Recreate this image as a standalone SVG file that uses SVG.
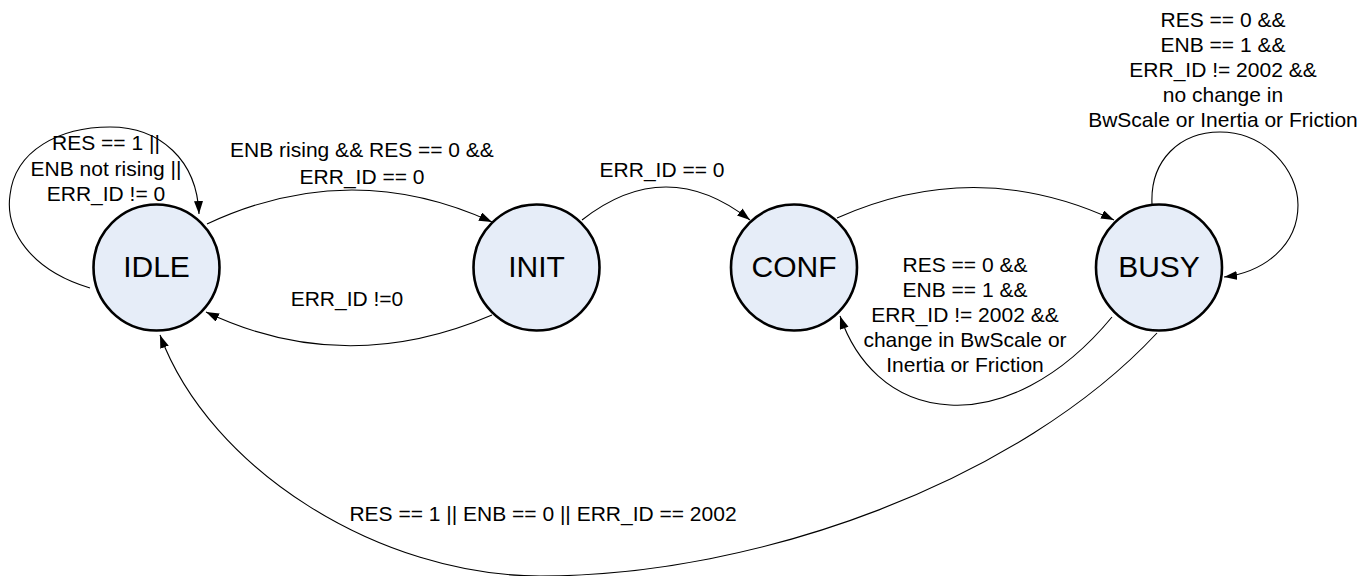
<svg xmlns="http://www.w3.org/2000/svg" width="1368" height="576" viewBox="0 0 1368 576">
<style>
.node{fill:#E6EDF8;stroke:#000;stroke-width:2.6}
.nl{font-family:"Liberation Sans",Arial,sans-serif;font-size:30px;fill:#000;text-anchor:middle}
.el{font-family:"Liberation Sans",Arial,sans-serif;font-size:21px;fill:#000;text-anchor:middle}
.c{fill:none;stroke:#000;stroke-width:1.1;marker-end:url(#ah)}
</style>
<defs>
<marker id="ah" markerUnits="userSpaceOnUse" markerWidth="14" markerHeight="10" refX="13" refY="4.5" orient="auto">
<path d="M0,0 L13,4.5 L0,9 z" fill="#000"/>
</marker>
</defs>
<rect width="1368" height="576" fill="#fff"/>
<g id="connectors">
<path class="c" d="M90,288 C30,270 5,230 10,195 C15,150 60,127 110,127 C160,127 197,160 199,214"/>
<path class="c" d="M207,224 Q350,157 492,222"/>
<path class="c" d="M492,315 Q345,378 206,312"/>
<path class="c" d="M582,220 Q666,154 750,220"/>
<path class="c" d="M837,218 Q976,156 1114,220"/>
<path class="c" d="M1112,317 C1060,380 1000,408 950,405 C890,402 855,360 840,316"/>
<path class="c" d="M1152,204 C1150,160 1180,132 1220,132 C1265,132 1298,170 1298,205 C1298,245 1265,272 1224,277"/>
<path class="c" d="M1157,333 C1020,480 760,576 540,576 C380,576 210,470 160,335"/>
<text class="el" x="106" y="150">RES == 1 ||</text>
<text class="el" x="106" y="176">ENB not rising ||</text>
<text class="el" x="106" y="201">ERR_ID != 0</text>
<text class="el" x="362" y="157">ENB rising &amp;&amp; RES == 0 &amp;&amp;</text>
<text class="el" x="362" y="184">ERR_ID == 0</text>
<text class="el" x="347" y="306">ERR_ID !=0</text>
<text class="el" x="662" y="177">ERR_ID == 0</text>
<text class="el" x="1223" y="27">RES == 0 &amp;&amp;</text>
<text class="el" x="1223" y="52">ENB == 1 &amp;&amp;</text>
<text class="el" x="1223" y="77">ERR_ID != 2002 &amp;&amp;</text>
<text class="el" x="1223" y="102">no change in</text>
<text class="el" x="1223" y="127">BwScale or Inertia or Friction</text>
<text class="el" x="965" y="272">RES == 0 &amp;&amp;</text>
<text class="el" x="965" y="297">ENB == 1 &amp;&amp;</text>
<text class="el" x="965" y="322">ERR_ID != 2002 &amp;&amp;</text>
<text class="el" x="965" y="347">change in BwScale or</text>
<text class="el" x="965" y="372">Inertia or Friction</text>
<text class="el" x="543" y="521">RES == 1 || ENB == 0 || ERR_ID == 2002</text>
</g>
<g id="node-idle"><circle class="node" cx="156.5" cy="267.5" r="63"/><text class="nl" x="156.5" y="277">IDLE</text></g>
<g id="node-init"><circle class="node" cx="536.5" cy="267.5" r="63"/><text class="nl" x="536.5" y="277">INIT</text></g>
<g id="node-conf"><circle class="node" cx="794" cy="267.5" r="63"/><text class="nl" x="794" y="277">CONF</text></g>
<g id="node-busy"><circle class="node" cx="1159" cy="267.5" r="63"/><text class="nl" x="1159" y="277">BUSY</text></g>
</svg>
